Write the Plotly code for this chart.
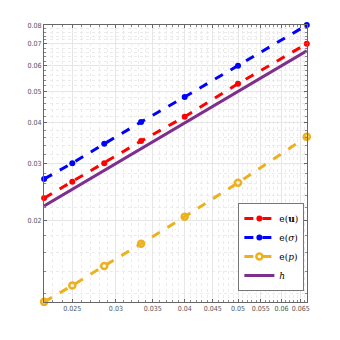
import numpy as np
import plotly.graph_objects as go

# mesh sizes h = 1/45 ... 1/15
h = [1/45, 1/40, 1/35, 1/30, 1/25, 1/20, 1/15]

# errors
e_u = [0.0235, 0.0264, 0.0301, 0.0352, 0.0418, 0.0528, 0.0701]
e_sigma = [0.0269, 0.0301, 0.0345, 0.0403, 0.0481, 0.0600, 0.0800]
e_p = [0.01127, 0.01265, 0.01454, 0.0170, 0.0206, 0.0262, 0.0363]

xticks = [0.025, 0.03, 0.035, 0.04, 0.045, 0.05, 0.055, 0.06, 0.065]
yticks = [0.02, 0.03, 0.04, 0.05, 0.06, 0.07, 0.08]

fig = go.Figure()
fig.add_scatter(x=h, y=e_u, name="e(<b>u</b>)", mode="lines+markers",
                line=dict(color="#ff0000", width=3, dash="dash"),
                marker=dict(symbol="circle", size=6, color="#ff0000"))
fig.add_scatter(x=h, y=e_sigma, name="e(<i>σ</i>)", mode="lines+markers",
                line=dict(color="#0000ff", width=3, dash="dash"),
                marker=dict(symbol="circle", size=6, color="#0000ff"))
fig.add_scatter(x=h, y=e_p, name="e(<i>p</i>)", mode="lines+markers",
                line=dict(color="#edb120", width=3, dash="dash"),
                marker=dict(symbol="circle-open", size=6, color="#edb120",
                            line=dict(width=2.5)))
fig.add_scatter(x=h, y=h, name="<i>h</i>", mode="lines",
                line=dict(color="#7e2f8e", width=3))
fig.update_traces(cliponaxis=False)

axis_common = dict(
    showline=True, linecolor="#666666", linewidth=1, mirror="ticks",
    ticks="inside", ticklen=3, tickcolor="#666666",
    showgrid=True, gridcolor="#e6e6e6", gridwidth=1,
    zeroline=False, tickangle=0, automargin=False,
    tickfont=dict(family="DejaVu Sans Condensed, Liberation Sans Narrow, Liberation Sans",
                  size=7, color="#555555"),
)

# ranges padded a hair so the end markers are not dropped
fig.update_xaxes(type="log", range=[np.log10(0.02221), np.log10(0.06672)],
                 tickvals=xticks, ticktext=[str(v) for v in xticks],
                 minor=dict(tickvals=list(np.arange(0.022, 0.067, 0.001)),
                            ticks="inside", ticklen=2, tickcolor="#888888",
                            showgrid=True, gridcolor="#ebebeb", griddash="dot"),
                 **axis_common)
fig.update_yaxes(type="log", range=[np.log10(0.01126), np.log10(0.08005)],
                 tickvals=yticks, ticktext=[str(v) for v in yticks],
                 minor=dict(tickvals=list(np.arange(0.012, 0.081, 0.002)),
                            ticks="inside", ticklen=2, tickcolor="#888888",
                            showgrid=True, gridcolor="#ebebeb", griddash="dot"),
                 **axis_common)

fig.update_layout(
    width=340, height=340,
    margin=dict(l=44, r=33, t=25, b=38),
    plot_bgcolor="white", paper_bgcolor="white",
    showlegend=True,
    legend=dict(x=0.99, y=0.04, xanchor="right", yanchor="bottom",
                bgcolor="white", bordercolor="#777777", borderwidth=1,
                font=dict(family="DejaVu Serif, Liberation Serif", size=9, color="black"),
                itemwidth=30, tracegroupgap=0),
)

# the page body has an 8px margin by default; drop it so the figure sits at 0,0
fig.write_html("out.html", config={"displayModeBar": False},
               post_script="document.body.style.margin='0';")
